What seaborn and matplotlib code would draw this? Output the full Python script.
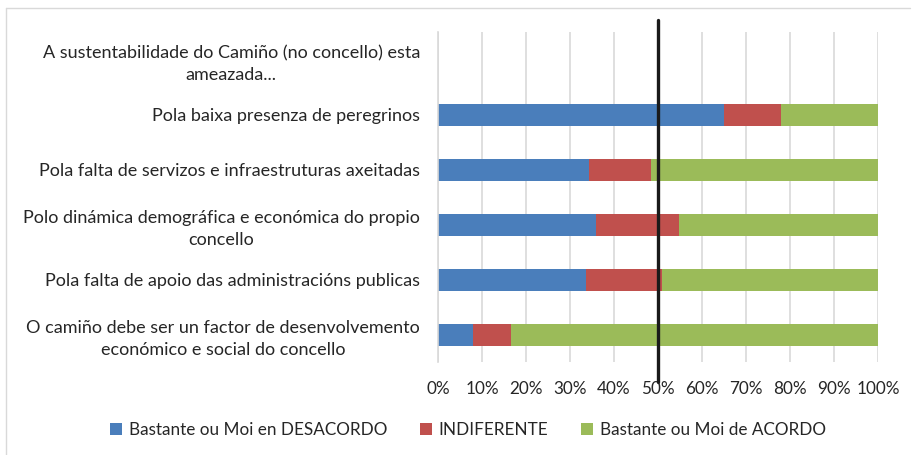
import numpy as np
import pandas as pd
import seaborn as sns
import matplotlib.pyplot as plt
from matplotlib.lines import Line2D
from matplotlib.patches import Patch

# Survey answers (% of respondents), top to bottom
categories = [
    "A sustentabilidade do Camiño (no concello) esta\nameazada...",
    "Pola baixa presenza de peregrinos",
    "Pola falta de servizos e infraestruturas axeitadas",
    "Polo dinámica demográfica e económica do propio\nconcello",
    "Pola falta de apoio das administracións publicas",
    "O camiño debe ser un factor de desenvolvemento\neconómico e social do concello",
]
desacordo = [0, 65.0, 34.4, 35.8, 33.7, 8.0]
indiferente = [0, 13.0, 13.9, 19.0, 17.1, 8.6]
acordo = [0, 22.0, 51.7, 45.2, 49.2, 83.4]

series_names = ["Bastante ou Moi en DESACORDO", "INDIFERENTE", "Bastante ou Moi de ACORDO"]
colors = ["#4A7EBB", "#C0504D", "#9BBB59"]
x_ticks = list(range(0, 101, 10))
x_labels = [f"{t}%" for t in x_ticks]

df = pd.DataFrame({
    "cat": categories,
    "d": desacordo,
    "i": indiferente,
    "a": acordo,
})
df["cum_d"] = df["d"]
df["cum_i"] = df["d"] + df["i"]
df["cum_a"] = df["d"] + df["i"] + df["a"]

sns.set_style("white")
plt.rcParams["font.family"] = ["Lato", "DejaVu Sans"]

fig = plt.figure(figsize=(9.15, 4.55), dpi=100)
ax = fig.add_axes([438 / 915, 1 - 362 / 455, 440 / 915, 330 / 455])

# stacked bars: draw the running totals from the largest down
for col, c in [("cum_a", colors[2]), ("cum_i", colors[1]), ("cum_d", colors[0])]:
    sns.barplot(data=df, x=col, y="cat", orient="h", color=c, width=0.4,
                linewidth=0, saturation=1, ax=ax, zorder=2)

ax.set_xlim(0, 100)
ax.set_xticks(x_ticks)
ax.set_xticklabels(x_labels, fontsize=12.3, color="#262626")
ax.set_xlabel("")
ax.set_ylabel("")
ax.tick_params(axis="x", length=0, pad=14)
ax.tick_params(axis="y", length=0, pad=13, labelsize=13, labelcolor="#262626")
for lbl in ax.get_yticklabels():
    lbl.set_multialignment("center")
    lbl.set_linespacing(1.45)

ax.grid(axis="x", color="#D9D9D9", linewidth=1.2, zorder=0)
ax.set_axisbelow(True)
for s in ["top", "right", "bottom"]:
    ax.spines[s].set_visible(False)
ax.spines["left"].set_color("#D9D9D9")
ax.spines["left"].set_linewidth(1.2)

# 50% reference line
ax.axvline(50, ymin=(362 - 382) / 330, ymax=(362 - 20) / 330, color="#1A1A1A",
           linewidth=2.4, clip_on=False, zorder=5)

handles = [Patch(facecolor=c, edgecolor="none") for c in colors]
fig.legend(handles, series_names, loc="center", bbox_to_anchor=(468 / 915, 1 - 430 / 455),
           ncol=3, frameon=False, fontsize=12.3, handlelength=0.7, handleheight=0.7,
           handletextpad=0.4, columnspacing=1.9, labelcolor="#262626")

# chart frame (top and left edges visible)
fig.add_artist(Line2D([6 / 915, 910 / 915], [1 - 8 / 455, 1 - 8 / 455],
                      color="#D9D9D9", linewidth=1, transform=fig.transFigure))
fig.add_artist(Line2D([6 / 915, 6 / 915], [1 - 8 / 455, 0],
                      color="#D9D9D9", linewidth=1, transform=fig.transFigure))

fig.savefig("out.png", dpi=100)
